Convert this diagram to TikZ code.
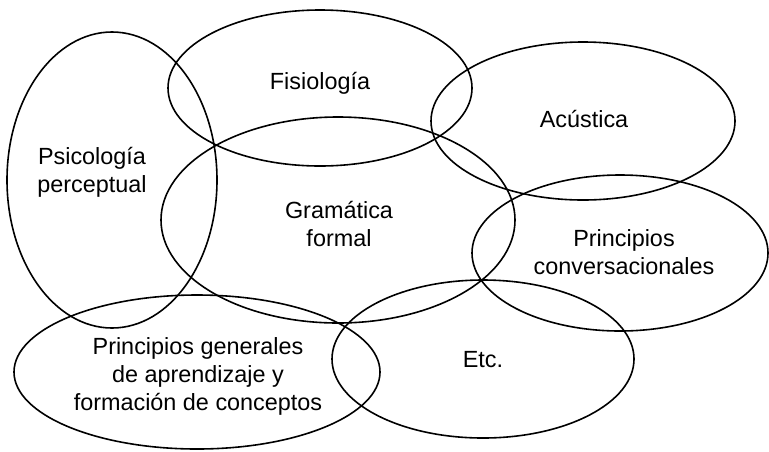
\documentclass[tikz,border=0pt]{standalone}
\usepackage{fontspec}
\setmainfont{Liberation Sans}

\begin{document}
\begin{tikzpicture}[x=0.5pt, y=-0.5pt, line width=0.8pt,
  zona/.style={draw=black},
  rotulo/.style={align=center, inner sep=0pt, font=\fontsize{11.7}{14}\selectfont}]
\useasboundingbox (0,0) rectangle (769,451);
% areas
\draw[zona] (112,180) ellipse [x radius=105, y radius=148];
\draw[zona] (320,88) ellipse [x radius=152, y radius=78];
\draw[zona] (583,121) ellipse [x radius=152, y radius=79];
\draw[zona] (338,220) ellipse [x radius=177, y radius=103];
\draw[zona] (620,253) ellipse [x radius=148, y radius=78];
\draw[zona] (197,372) ellipse [x radius=183, y radius=77];
\draw[zona] (483,359) ellipse [x radius=151, y radius=79];
% labels
\path
(92,172) node[rotulo] (psico) {Psicología\\perceptual};
\path
(320,83) node[rotulo] (fisio) {Fisiología};
\path
(584,119) node[rotulo] (acust) {Acústica};
\path
(339,224) node[rotulo] (grama) {Gramática\\formal};
\path
(624,252) node[rotulo] (conver) {Principios\\conversacionales};
\path
(198,376) node[rotulo] (gener) {Principios generales\\de aprendizaje y\\formación de conceptos};
\path
(483,360) node[rotulo] (etc) {Etc.};
\end{tikzpicture}
\end{document}
